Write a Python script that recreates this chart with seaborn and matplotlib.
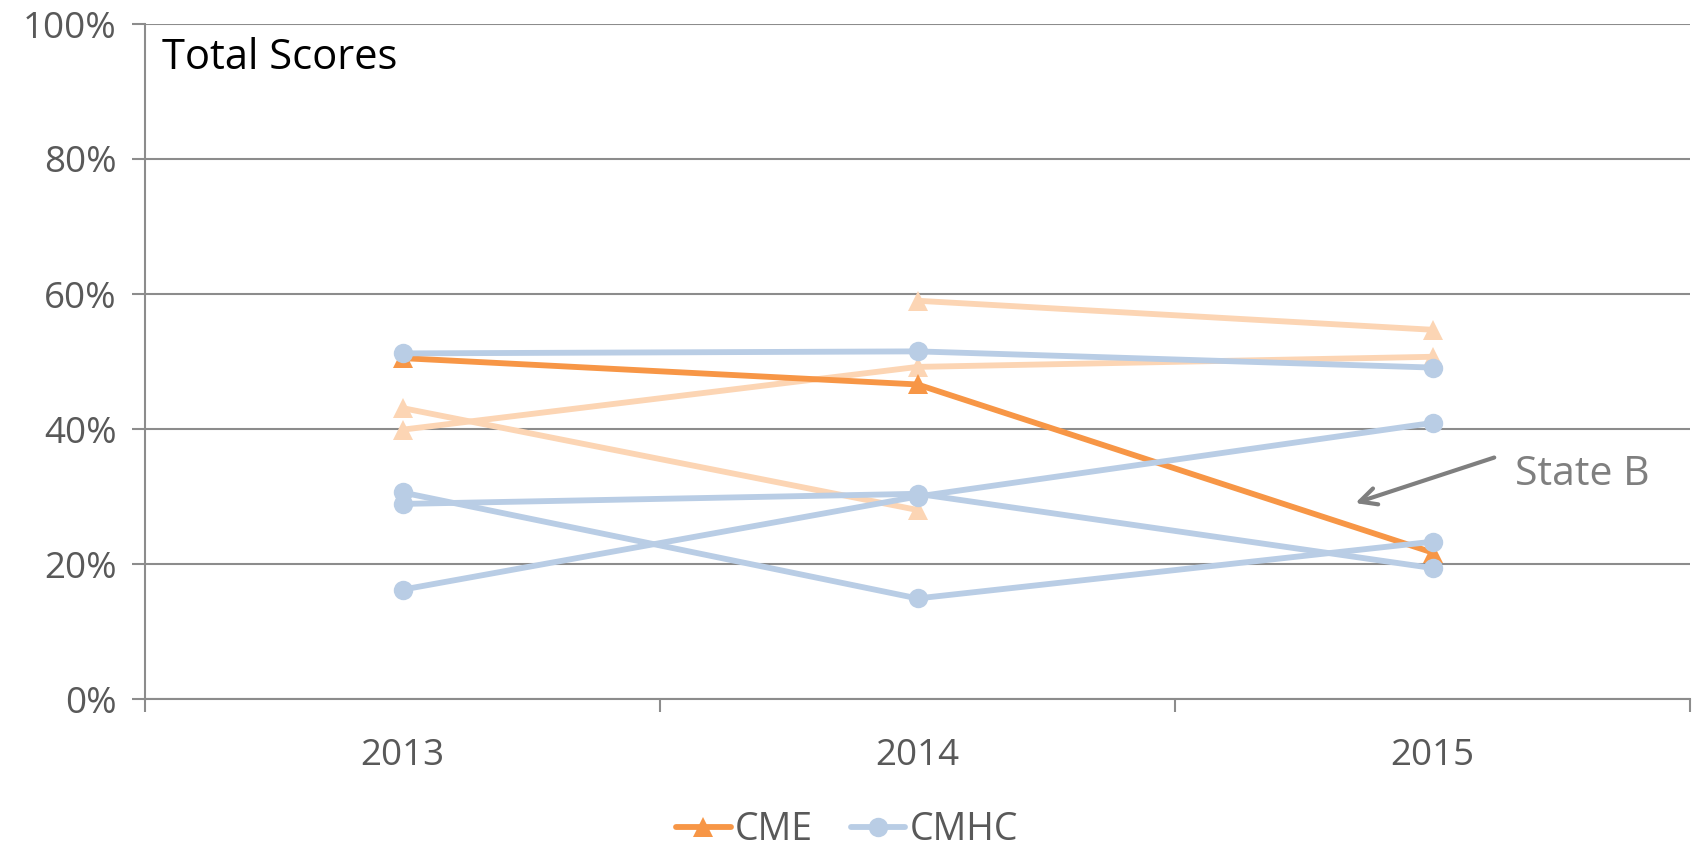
import numpy as np
import pandas as pd
import matplotlib
matplotlib.use("Agg")
import matplotlib.pyplot as plt
from matplotlib.lines import Line2D
import seaborn as sns

# Survey years and total scores (fraction of maximum) per state
years = [2013, 2014, 2015]

cme_state_b = [0.505, 0.466, 0.217]
cme_other_1 = [np.nan, 0.590, 0.547]
cme_other_2 = [0.399, 0.492, 0.507]
cme_other_3 = [0.431, 0.280, np.nan]

cmhc_1 = [0.512, 0.515, 0.491]
cmhc_2 = [0.289, 0.304, 0.194]
cmhc_3 = [0.306, 0.149, 0.233]
cmhc_4 = [0.162, 0.300, 0.409]

y_ticks = [0.0, 0.2, 0.4, 0.6, 0.8, 1.0]
y_tick_labels = ["0%", "20%", "40%", "60%", "80%", "100%"]
legend_labels = ["CME", "CMHC"]

ORANGE = "#F79646"
LIGHT_ORANGE = "#FCD5B4"
BLUE = "#B9CDE5"
GRID = "#8C8C8C"
TEXT = "#595959"

sns.set_theme(style="white")
plt.rcParams["font.family"] = ["Open Sans", "DejaVu Sans"]

fig = plt.figure(figsize=(16.96, 8.46), dpi=100)
ax = fig.add_axes([145 / 1696, 1 - 699 / 846, (1690 - 145) / 1696, (699 - 24) / 846])

series = [
    (cme_other_1, LIGHT_ORANGE, "^", 1),
    (cme_other_2, LIGHT_ORANGE, "^", 1),
    (cme_other_3, LIGHT_ORANGE, "^", 1),
    (cme_state_b, ORANGE, "^", 2),
    (cmhc_1, BLUE, "o", 3),
    (cmhc_2, BLUE, "o", 3),
    (cmhc_3, BLUE, "o", 3),
    (cmhc_4, BLUE, "o", 3),
]

for values, color, marker, z in series:
    df = pd.DataFrame({"year": years, "score": values}).dropna()
    sns.lineplot(
        data=df, x="year", y="score", ax=ax, color=color, marker=marker,
        markersize=14 if marker == "o" else 15, markeredgewidth=0,
        linewidth=4.2, zorder=z + 2, legend=False,
    )

ax.set_xlim(years[0] - 0.5, years[-1] + 0.5)
ax.set_ylim(0, 1)
ax.set_xlabel("")
ax.set_ylabel("")

# Gridlines and axes
ax.set_yticks(y_ticks)
ax.set_yticklabels(y_tick_labels)
ax.yaxis.grid(True, color=GRID, linewidth=1.5, zorder=0)
ax.set_axisbelow(True)
ax.set_xticks(years)
ax.set_xticklabels([str(y) for y in years])
ax.set_xticks([y - 0.5 for y in years] + [years[-1] + 0.5], minor=True)

for side in ["top", "right"]:
    ax.spines[side].set_visible(False)
for side in ["left", "bottom"]:
    ax.spines[side].set_color(GRID)
    ax.spines[side].set_linewidth(1.5)

ax.tick_params(axis="y", which="major", direction="out", length=9.5, width=1.5,
               color=GRID, labelsize=26.5, labelcolor=TEXT, pad=11, left=True)
ax.tick_params(axis="x", which="major", length=0, labelsize=26.5, labelcolor=TEXT, pad=28)
ax.tick_params(axis="x", which="minor", direction="out", length=9.5, width=1.5,
               color=GRID, bottom=True)

# Title inside the plot area
ax.text(0.011, 0.95, "Total Scores", transform=ax.transAxes, fontsize=30,
        color="black", va="center", ha="left")

# Callout for State B
ax.annotate(
    "", xy=(years[-1] - 0.155, 0.289), xytext=(years[-1] + 0.125, 0.359),
    arrowprops=dict(arrowstyle="->", color="#7F7F7F", lw=3, mutation_scale=30),
)
ax.text(years[-1] + 0.16, 0.332, "State B", fontsize=29.5, color="#7F7F7F",
        va="center", ha="left")

handles = [
    Line2D([0], [0], color=ORANGE, marker="^", markersize=15, markeredgewidth=0, linewidth=4.2),
    Line2D([0], [0], color=BLUE, marker="o", markersize=14, markeredgewidth=0, linewidth=4.2),
]
fig.legend(handles, legend_labels, loc="center", bbox_to_anchor=(847 / 1696, 1 - 830 / 846),
           ncol=2, frameon=False, fontsize=27, labelcolor=TEXT, handlelength=1.45,
           handletextpad=0.12, columnspacing=1.0)

fig.savefig("out.png", dpi=100)
